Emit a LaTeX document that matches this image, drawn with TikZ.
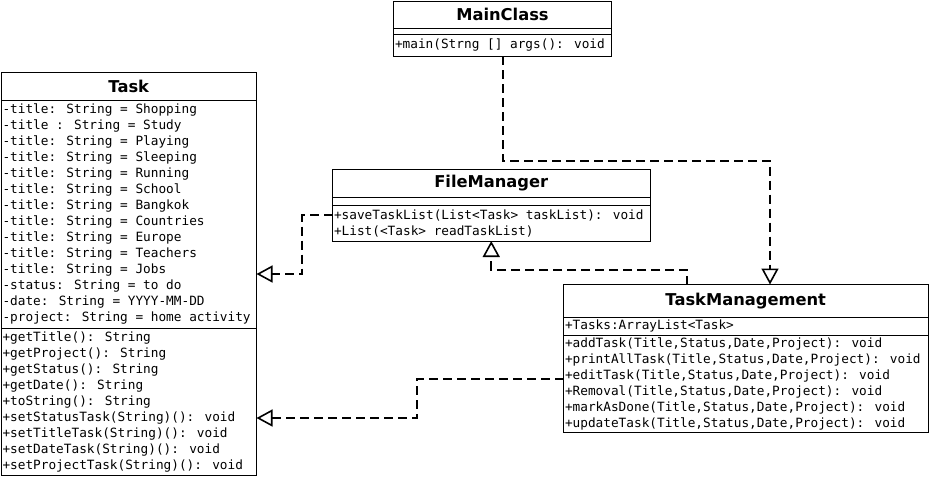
\documentclass[tikz,border=0pt]{standalone}
\usepackage{fontspec}
\usepackage{tikz}
\usetikzlibrary{arrows.meta, positioning, shapes.multipart}
\newfontfamily\umlsans{DejaVu Sans}
\newfontfamily\umlmono{DejaVu Sans Mono}
% class name part: width, height, text
\newcommand{\umlhead}[3]{\parbox[c][#2pt][c]{#1pt}{\centering\umlsans\bfseries\fontsize{16.3}{19}\selectfont #3}}
% attribute / operation part: width, height, rows
\newcommand{\umlrows}[3]{\parbox[c][#2pt][c]{#1pt}{\raggedright\umlmono\fontsize{12.75}{16}\selectfont #3}}
\tikzset{ % global config
    umlclass/.style={draw, line width=1pt, fill=white, rectangle split, rectangle split parts=3,
        inner xsep=1.5pt, inner ysep=0pt, outer sep=0pt, anchor=north west}, % one box per class
    dep/.style={line width=2pt, dash pattern=on 9pt off 5pt,
        -{Triangle[open, length=16pt, width=17pt, line width=1.6pt]}}, % dashed line, open head
}
\begin{document}
\begin{tikzpicture}[x=1pt, y=-1pt]
	\useasboundingbox (0,0) rectangle (929,477);

		\node[umlclass] (main) at (393.5,1) {\umlhead{215}{26.5}{MainClass}
		\nodepart{two}\umlrows{215}{5}{}
		\nodepart{three}\umlrows{215}{20.5}{+main(Strng [] args(): void}};

		\node[umlclass] (task) at (1,72.5) {\umlhead{252.5}{26.5}{Task}
		\nodepart{two}\umlrows{252.5}{227}{-title: String = Shopping\\
			-title : String = Study\\
			-title: String = Playing\\
			-title: String = Sleeping\\
			-title: String = Running\\
			-title: String = School\\
			-title: String = Bangkok\\
			-title: String = Countries\\
			-title: String = Europe\\
			-title: String = Teachers\\
			-title: String = Jobs\\
			-status: String = to do\\
			-date: String = YYYY-MM-DD\\
			-project: String = home activity}
		\nodepart{three}\umlrows{252.5}{146.5}{+getTitle(): String\\
			+getProject(): String\\
			+getStatus(): String\\
			+getDate(): String\\
			+toString(): String\\
			+setStatusTask(String)(): void\\
			+setTitleTask(String)(): void\\
			+setDateTask(String)(): void\\
			+setProjectTask(String)(): void}};

		\node[umlclass] (fm) at (332.5,169.5) {\umlhead{314.5}{27}{FileManager}
		\nodepart{two}\umlrows{314.5}{6.5}{}
		\nodepart{three}\umlrows{314.5}{35}{+saveTaskList(List<Task> taskList): void\\
			+List(<Task> readTaskList)}};

		\node[umlclass] (tm) at (563.5,284.5) {\umlhead{361.5}{31.5}{TaskManagement}
		\nodepart{two}\umlrows{361.5}{17}{+Tasks:ArrayList<Task>}
		\nodepart{three}\umlrows{361.5}{96}{+addTask(Title,Status,Date,Project): void\\
			+printAllTask(Title,Status,Date,Project): void\\
			+editTask(Title,Status,Date,Project): void\\
			+Removal(Title,Status,Date,Project): void\\
			+markAsDone(Title,Status,Date,Project): void\\
			+updateTask(Title,Status,Date,Project): void}};

		% bends of the connectors
		\coordinate (b1) at (770,160.5);
		\coordinate (b2) at (687,269.5);
		\coordinate (b3) at (302,215);
		\coordinate (b3b) at (302,274);
		\coordinate (b4) at (416.5,379);
		\coordinate (b4b) at (416.5,418);

		\draw[dep] (main.south) |- (b1) -- (b1 |- tm.north);
		\draw[dep] (b2 |- tm.north) -- (b2) -| (fm.south);
		\draw[dep] (b3 -| fm.west) -- (b3) -- (b3b) -- (b3b -| task.east);
		\draw[dep] (b4 -| tm.west) -- (b4) -- (b4b) -- (b4b -| task.east);

	\end{tikzpicture}
\end{document}
